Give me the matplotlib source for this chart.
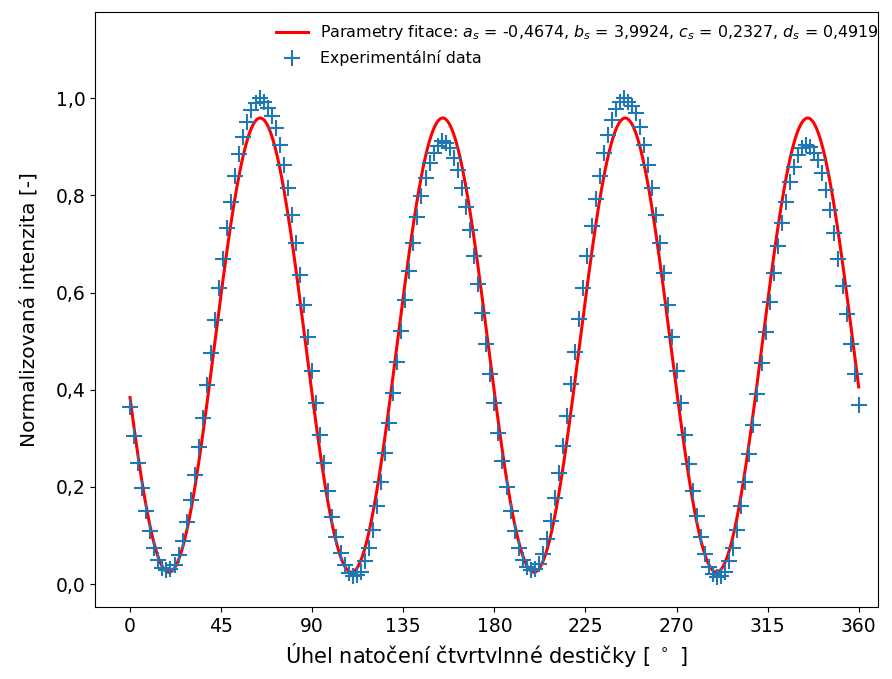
import numpy as np
import matplotlib
matplotlib.use("Agg")
import matplotlib.pyplot as plt
from matplotlib.ticker import FuncFormatter

# ==========================================
# DATA
# ==========================================

# fit parameters y = d + a*sin(b*x + c), x in radians
a_s = -0.4674
b_s = 3.9924
c_s = 0.2327
d_s = 0.4919

# measured angles [deg], step 2 deg
uhel = np.arange(0, 362, 2)

# normalized intensity
intenzita = [
    0.365, 0.305, 0.250, 0.198, 0.150, 0.110, 0.074, 0.050, 0.034, 0.029,
    0.031, 0.040, 0.060, 0.089, 0.128, 0.174, 0.225, 0.282, 0.343, 0.410,
    0.475, 0.544, 0.609, 0.670, 0.733, 0.787, 0.839, 0.885, 0.921, 0.952,
    0.976, 0.990, 1.000, 0.993, 0.979, 0.964, 0.938, 0.904, 0.863, 0.815,
    0.760, 0.702, 0.636, 0.575, 0.508, 0.439, 0.372, 0.307, 0.249, 0.191,
    0.139, 0.098, 0.064, 0.040, 0.023, 0.016, 0.018, 0.026, 0.047, 0.074,
    0.112, 0.160, 0.211, 0.270, 0.331, 0.394, 0.458, 0.521, 0.585, 0.645,
    0.703, 0.755, 0.798, 0.835, 0.866, 0.887, 0.901, 0.911, 0.907, 0.897,
    0.877, 0.853, 0.816, 0.777, 0.729, 0.676, 0.618, 0.558, 0.494, 0.432,
    0.372, 0.311, 0.254, 0.199, 0.151, 0.110, 0.075, 0.050, 0.036, 0.029,
    0.031, 0.042, 0.063, 0.093, 0.131, 0.177, 0.228, 0.285, 0.347, 0.412,
    0.477, 0.545, 0.610, 0.676, 0.738, 0.792, 0.841, 0.887, 0.925, 0.955,
    0.978, 0.992, 1.000, 0.993, 0.985, 0.969, 0.940, 0.904, 0.863, 0.815,
    0.760, 0.702, 0.640, 0.575, 0.508, 0.439, 0.372, 0.307, 0.247, 0.191,
    0.141, 0.098, 0.062, 0.036, 0.021, 0.014, 0.016, 0.026, 0.047, 0.074,
    0.112, 0.160, 0.211, 0.267, 0.328, 0.392, 0.455, 0.519, 0.580, 0.640,
    0.695, 0.744, 0.787, 0.827, 0.859, 0.883, 0.897, 0.903, 0.899, 0.887,
    0.873, 0.846, 0.811, 0.770, 0.722, 0.669, 0.613, 0.556, 0.494, 0.432,
    0.369,
]

x_ticks = [0, 45, 90, 135, 180, 225, 270, 315, 360]
y_ticks = [0.0, 0.2, 0.4, 0.6, 0.8, 1.0]

# fitted curve
x_fit = np.linspace(0, 360, 1000)
y_fit = d_s + a_s * np.sin(b_s * np.radians(x_fit) + c_s)

# ==========================================
# PLOT
# ==========================================

fig = plt.figure(figsize=(8.92, 6.79), dpi=100)
ax = fig.add_axes([0.1065, 0.106, 0.8775, 0.876])

ax.plot(
    x_fit, y_fit,
    color='red', linewidth=2.2,
    label=r'Parametry fitace: $a_s$ = -0,4674, $b_s$ = 3,9924, $c_s$ = 0,2327, $d_s$ = 0,4919'
)

ax.plot(
    uhel, intenzita, '+',
    color='tab:blue', markersize=12, markeredgewidth=1.5,
    label='Experimentální data'
)

ax.set_xlim(-17.3, 369.4)
ax.set_ylim(-0.047, 1.177)
ax.set_xticks(x_ticks)
ax.set_yticks(y_ticks)
# decimal comma on the y axis
ax.yaxis.set_major_formatter(FuncFormatter(lambda v, p: f"{v:.1f}".replace('.', ',')))
ax.tick_params(labelsize=13.5)

ax.set_xlabel(r"Úhel natočení čtvrtvlnné destičky [ $^\circ$ ]", fontsize=15)
ax.set_ylabel("Normalizovaná intenzita [-]", fontsize=14.5, labelpad=12)

ax.legend(loc='upper right', frameon=False, fontsize=11.4,
          bbox_to_anchor=(1.02, 1.005))

fig.savefig("out.png", dpi=100)
